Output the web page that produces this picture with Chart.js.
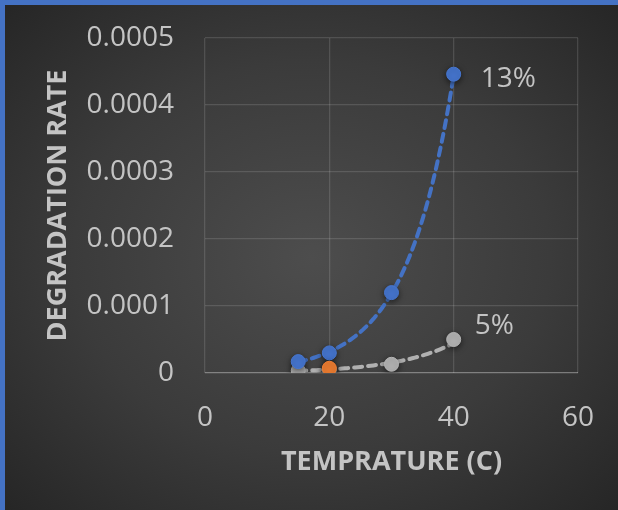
<!DOCTYPE html>
<html>
<head>
<meta charset="utf-8">
<script src="https://cdn.jsdelivr.net/npm/chart.js@4/dist/chart.umd.min.js"></script>
<style>
  html, body { margin: 0; padding: 0; }
  body { width: 618px; height: 510px; background: #4472C4; overflow: hidden; }
  #frame {
    position: absolute; left: 5px; top: 5px; width: 613px; height: 505px;
    background: radial-gradient(ellipse at 50% 50%, #4d4d4d 0%, #3b3b3b 55%, #262626 100%);
  }
  canvas { display: block; }
</style>
</head>
<body>
<div id="frame"><canvas id="chart" width="613" height="505"></canvas></div>
<script>
// Temperature (C) for each measurement
const temps = [15, 20, 30, 40];
// degradation rate, 13% series
const rate13 = [0.000017, 0.00003, 0.00012, 0.000446];
// degradation rate, 5% series
const rate5 = [0.0000035, 0.000005, 0.000013, 0.00005];
// single highlighted point
const highlightX = [20];
const highlightY = [0.000007];
// axis ticks
const xTicks = [0, 20, 40, 60];
const yTicks = [0, 0.0001, 0.0002, 0.0003, 0.0004, 0.0005];

const seriesLabels = ["13%", "5%"];

const FONT = "'Open Sans', sans-serif";
const TEXT = "#c4c4c4";

function toPoints(xs, ys) {
  return xs.map((x, i) => ({ x: x, y: ys[i] }));
}

// Exponential trendline (least squares on ln y), like Excel's
function expTrend(xs, ys, steps) {
  const n = xs.length;
  const ly = ys.map(Math.log);
  const mx = xs.reduce((a, b) => a + b, 0) / n;
  const my = ly.reduce((a, b) => a + b, 0) / n;
  let sxy = 0, sxx = 0;
  xs.forEach((x, i) => { sxy += (x - mx) * (ly[i] - my); sxx += (x - mx) * (x - mx); });
  const b = sxy / sxx;
  const a = my - b * mx;
  const lo = Math.min(...xs), hi = Math.max(...xs);
  const pts = [];
  for (let i = 0; i <= steps; i++) {
    const x = lo + (hi - lo) * i / steps;
    pts.push({ x: x, y: Math.exp(a + b * x) });
  }
  return pts;
}

// soft shadow under the markers (datasets 2..4)
const markerShadow = {
  id: "markerShadow",
  beforeDatasetDraw(chart, args) {
    if (args.index < 2) return;
    const ctx = chart.ctx;
    ctx.save();
    ctx.shadowColor = "rgba(0,0,0,0.55)";
    ctx.shadowBlur = 6;
    ctx.shadowOffsetY = 2;
  },
  afterDatasetDraw(chart, args) {
    if (args.index < 2) return;
    chart.ctx.restore();
  }
};

// draws the "13%" / "5%" labels next to the last point of each series
const endLabels = {
  id: "endLabels",
  afterDatasetsDraw(chart) {
    const ctx = chart.ctx;
    ctx.save();
    ctx.font = "28px " + FONT;
    ctx.fillStyle = TEXT;
    ctx.textBaseline = "middle";
    const offsets = [[27, 5], [21, -13]];
    [2, 3].forEach((di, k) => {
      const meta = chart.getDatasetMeta(di);
      const el = meta.data[meta.data.length - 1];
      ctx.fillText(seriesLabels[k], el.x + offsets[k][0], el.y + offsets[k][1]);
    });
    ctx.restore();
  }
};

function initChart() {
  const ctx = document.getElementById("chart");
  new Chart(ctx, {
    type: "scatter",
    data: {
      datasets: [
        {
          data: expTrend(temps, rate13, 60),
          showLine: true, pointRadius: 0, borderColor: "#4472C4",
          borderWidth: 4, borderDash: [8, 6], borderCapStyle: "round",
          order: 5,
        },
        {
          data: expTrend(temps, rate5, 60),
          showLine: true, pointRadius: 0, borderColor: "#b0b0b0",
          borderWidth: 4, borderDash: [8, 6], borderCapStyle: "round",
          order: 4,
        },
        {
          data: toPoints(temps, rate13),
          pointRadius: 7, backgroundColor: "#4676D0", borderColor: "#4676D0",
          order: 2,
        },
        {
          data: toPoints(temps, rate5),
          pointRadius: 7, backgroundColor: "#b4b4b4", borderColor: "#b4b4b4",
          order: 3,
        },
        {
          data: toPoints(highlightX, highlightY),
          pointRadius: 7, backgroundColor: "#ED7D31", borderColor: "#ED7D31",
          order: 1,
        },
      ],
    },
    options: {
      responsive: false,
      animation: false,
      layout: { padding: { top: 33, right: 40, left: 0, bottom: 0 } },
      plugins: { legend: { display: false }, tooltip: { enabled: false } },
      scales: {
        x: {
          type: "linear", min: 0, max: 60,
          afterBuildTicks: (s) => { s.ticks = xTicks.map((v) => ({ value: v })); },
          afterFit: (s) => { s.height = 137; s.paddingLeft = 0; s.paddingRight = 0; },
          grid: { color: "rgba(255,255,255,0.13)", drawTicks: false, lineWidth: 1.3 },
          border: { display: false },
          ticks: { color: TEXT, font: { family: FONT, size: 28 }, padding: 28 },
          title: {
            display: true, text: "TEMPRATURE (C)", color: TEXT,
            font: { family: FONT, size: 27, weight: "bold" },
            padding: { top: 0, bottom: 31 },
          },
        },
        y: {
          min: 0, max: 0.0005,
          afterBuildTicks: (s) => { s.ticks = yTicks.map((v) => ({ value: v })); },
          afterFit: (s) => { s.width = 200; s.paddingTop = 0; s.paddingBottom = 0; },
          grid: {
            drawTicks: false, lineWidth: 1.3,
            color: (c) => (c.tick && c.tick.value === 0 ? "rgba(255,255,255,0.35)" : "rgba(255,255,255,0.13)"),
          },
          border: { display: false },
          ticks: {
            color: TEXT, font: { family: FONT, size: 28 }, padding: 31,
            callback: (v) => (v === 0 ? "0" : v.toFixed(4)),
          },
          title: {
            display: true, text: "DEGRADATION RATE", color: TEXT,
            font: { family: FONT, size: 27, weight: "bold" },
            padding: { top: 37, bottom: 0 },
          },
        },
      },
    },
    plugins: [markerShadow, endLabels],
  });
}

document.addEventListener("DOMContentLoaded", initChart);
</script>
</body>
</html>
